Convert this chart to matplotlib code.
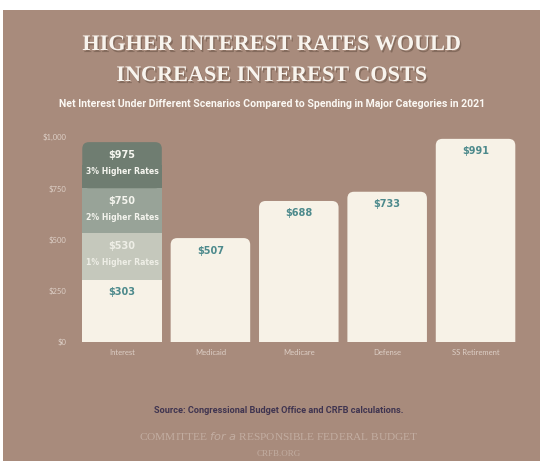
import matplotlib.pyplot as plt
import matplotlib.patheffects as pe
from matplotlib.patches import FancyBboxPatch, Rectangle

categories = ['Interest', 'Medicaid', 'Medicare', 'Defense', 'SS Retirement']
spending = [303, 507, 688, 733, 991]
scenario_totals = [530, 750, 975]
scenario_names = ['1% Higher Rates', '2% Higher Rates', '3% Higher Rates']
yticks = [0, 250, 500, 750, 1000]
ytick_labels = ['$0', '$250', '$500', '$750', '$1,000']

bg = '#a88b7c'
cream = '#f7f2e7'
teal = '#4d8a8c'
seg_colors = ['#c5c8bc', '#98a398', '#6f7d71']
seg_text = ['#eeeee6', '#f4f4ee', '#f6f6f0']

fig = plt.figure(figsize=(5.44, 4.61), dpi=100, facecolor='white')
fig.patches.append(Rectangle((3 / 544, 0), 537 / 544, 451 / 461, transform=fig.transFigure,
                             facecolor=bg, edgecolor='none', zorder=-1))

ax = fig.add_axes([0.135, 0.2581, 0.8285, 0.4447])
ax.set_facecolor('none')
ax.set_xlim(-0.55, 4.55)
ax.set_ylim(0, 1000)

width = 0.9
# px -> data conversions for rounded corners
asp = (1000 / 205) / (1 / 88.4)
rad = 0.075


def rounded_bar(x, bottom, top, color):
    p = FancyBboxPatch((x - width / 2, bottom), width, top - bottom,
                       boxstyle='round,pad=0,rounding_size=%f' % rad,
                       mutation_aspect=asp, facecolor=color, edgecolor='none', zorder=2)
    ax.add_patch(p)


# plain spending bars
for i, v in enumerate(spending):
    if i == 0:
        ax.bar(i, v, width=width, color=cream, zorder=2)
    else:
        rounded_bar(i, -60, v, cream)
    ax.annotate('$%d' % v, (i, v), xytext=(0, -9), textcoords='offset points',
                ha='center', va='center', fontsize=7, fontweight='bold',
                color=teal, fontfamily='DejaVu Sans', zorder=3)

# interest scenarios stacked on top
prev = spending[0]
for k, tot in enumerate(scenario_totals):
    if k == len(scenario_totals) - 1:
        rounded_bar(0, prev, tot, seg_colors[k])
        ax.bar(0, (tot - prev) * 0.5, bottom=prev, width=width, color=seg_colors[k], zorder=2)
    else:
        ax.bar(0, tot - prev, bottom=prev, width=width, color=seg_colors[k], zorder=2)
    ax.annotate('$%d' % tot, (0, tot), xytext=(0, -9), textcoords='offset points',
                ha='center', va='center', fontsize=7, fontweight='bold',
                color=seg_text[k], fontfamily='DejaVu Sans', zorder=3)
    ax.annotate(scenario_names[k], (0, tot), xytext=(0, -21), textcoords='offset points',
                ha='center', va='center', fontsize=5.6, fontweight='bold',
                color=seg_text[k], fontfamily='DejaVu Sans', zorder=3)
    prev = tot

ax.set_yticks(yticks)
ax.set_yticklabels(ytick_labels)
ax.set_xticks(range(len(categories)))
ax.set_xticklabels(categories)
ax.tick_params(length=0, labelsize=5.5, labelcolor='#ddcfc6', pad=5)
for lab in ax.get_xticklabels() + ax.get_yticklabels():
    lab.set_fontfamily('Lato')
for s in ax.spines.values():
    s.set_visible(False)

shadow = [pe.withSimplePatchShadow(offset=(1, -1.5), shadow_rgbFace='#5a4638', alpha=0.45)]
fig.text(0.5, 1 - 45 / 461, 'HIGHER INTEREST RATES WOULD', ha='center', va='center',
         fontsize=16, fontweight='bold', fontfamily='Liberation Serif', color='#f8f4ee',
         path_effects=shadow)
fig.text(0.5, 1 - 76 / 461, 'INCREASE INTEREST COSTS', ha='center', va='center',
         fontsize=16, fontweight='bold', fontfamily='Liberation Serif', color='#f8f4ee',
         path_effects=shadow)
fig.text(0.5, 1 - 104 / 461,
         'Net Interest Under Different Scenarios Compared to Spending in Major Categories in 2021',
         ha='center', va='center', fontsize=7.6, fontweight='bold', fontfamily='Roboto',
         color='#fbf8f3')

fig.text(0.513, 1 - 410 / 461, 'Source: Congressional Budget Office and CRFB calculations.',
         ha='center', va='center', fontsize=6.6, fontweight='bold', fontfamily='Roboto',
         color='#3f3450')
fig.text(0.513, 1 - 436 / 461, 'COMMITTEE $\\it{for\\ a}$ RESPONSIBLE FEDERAL BUDGET',
         ha='center', va='center', fontsize=8.2, fontfamily='Liberation Serif', color='#c2ada1')
fig.text(0.513, 1 - 454 / 461, 'CRFB.ORG', ha='center', va='center', fontsize=6.5,
         fontfamily='Liberation Serif', color='#c2ada1')

fig.savefig('out.png', dpi=100, facecolor='white')
